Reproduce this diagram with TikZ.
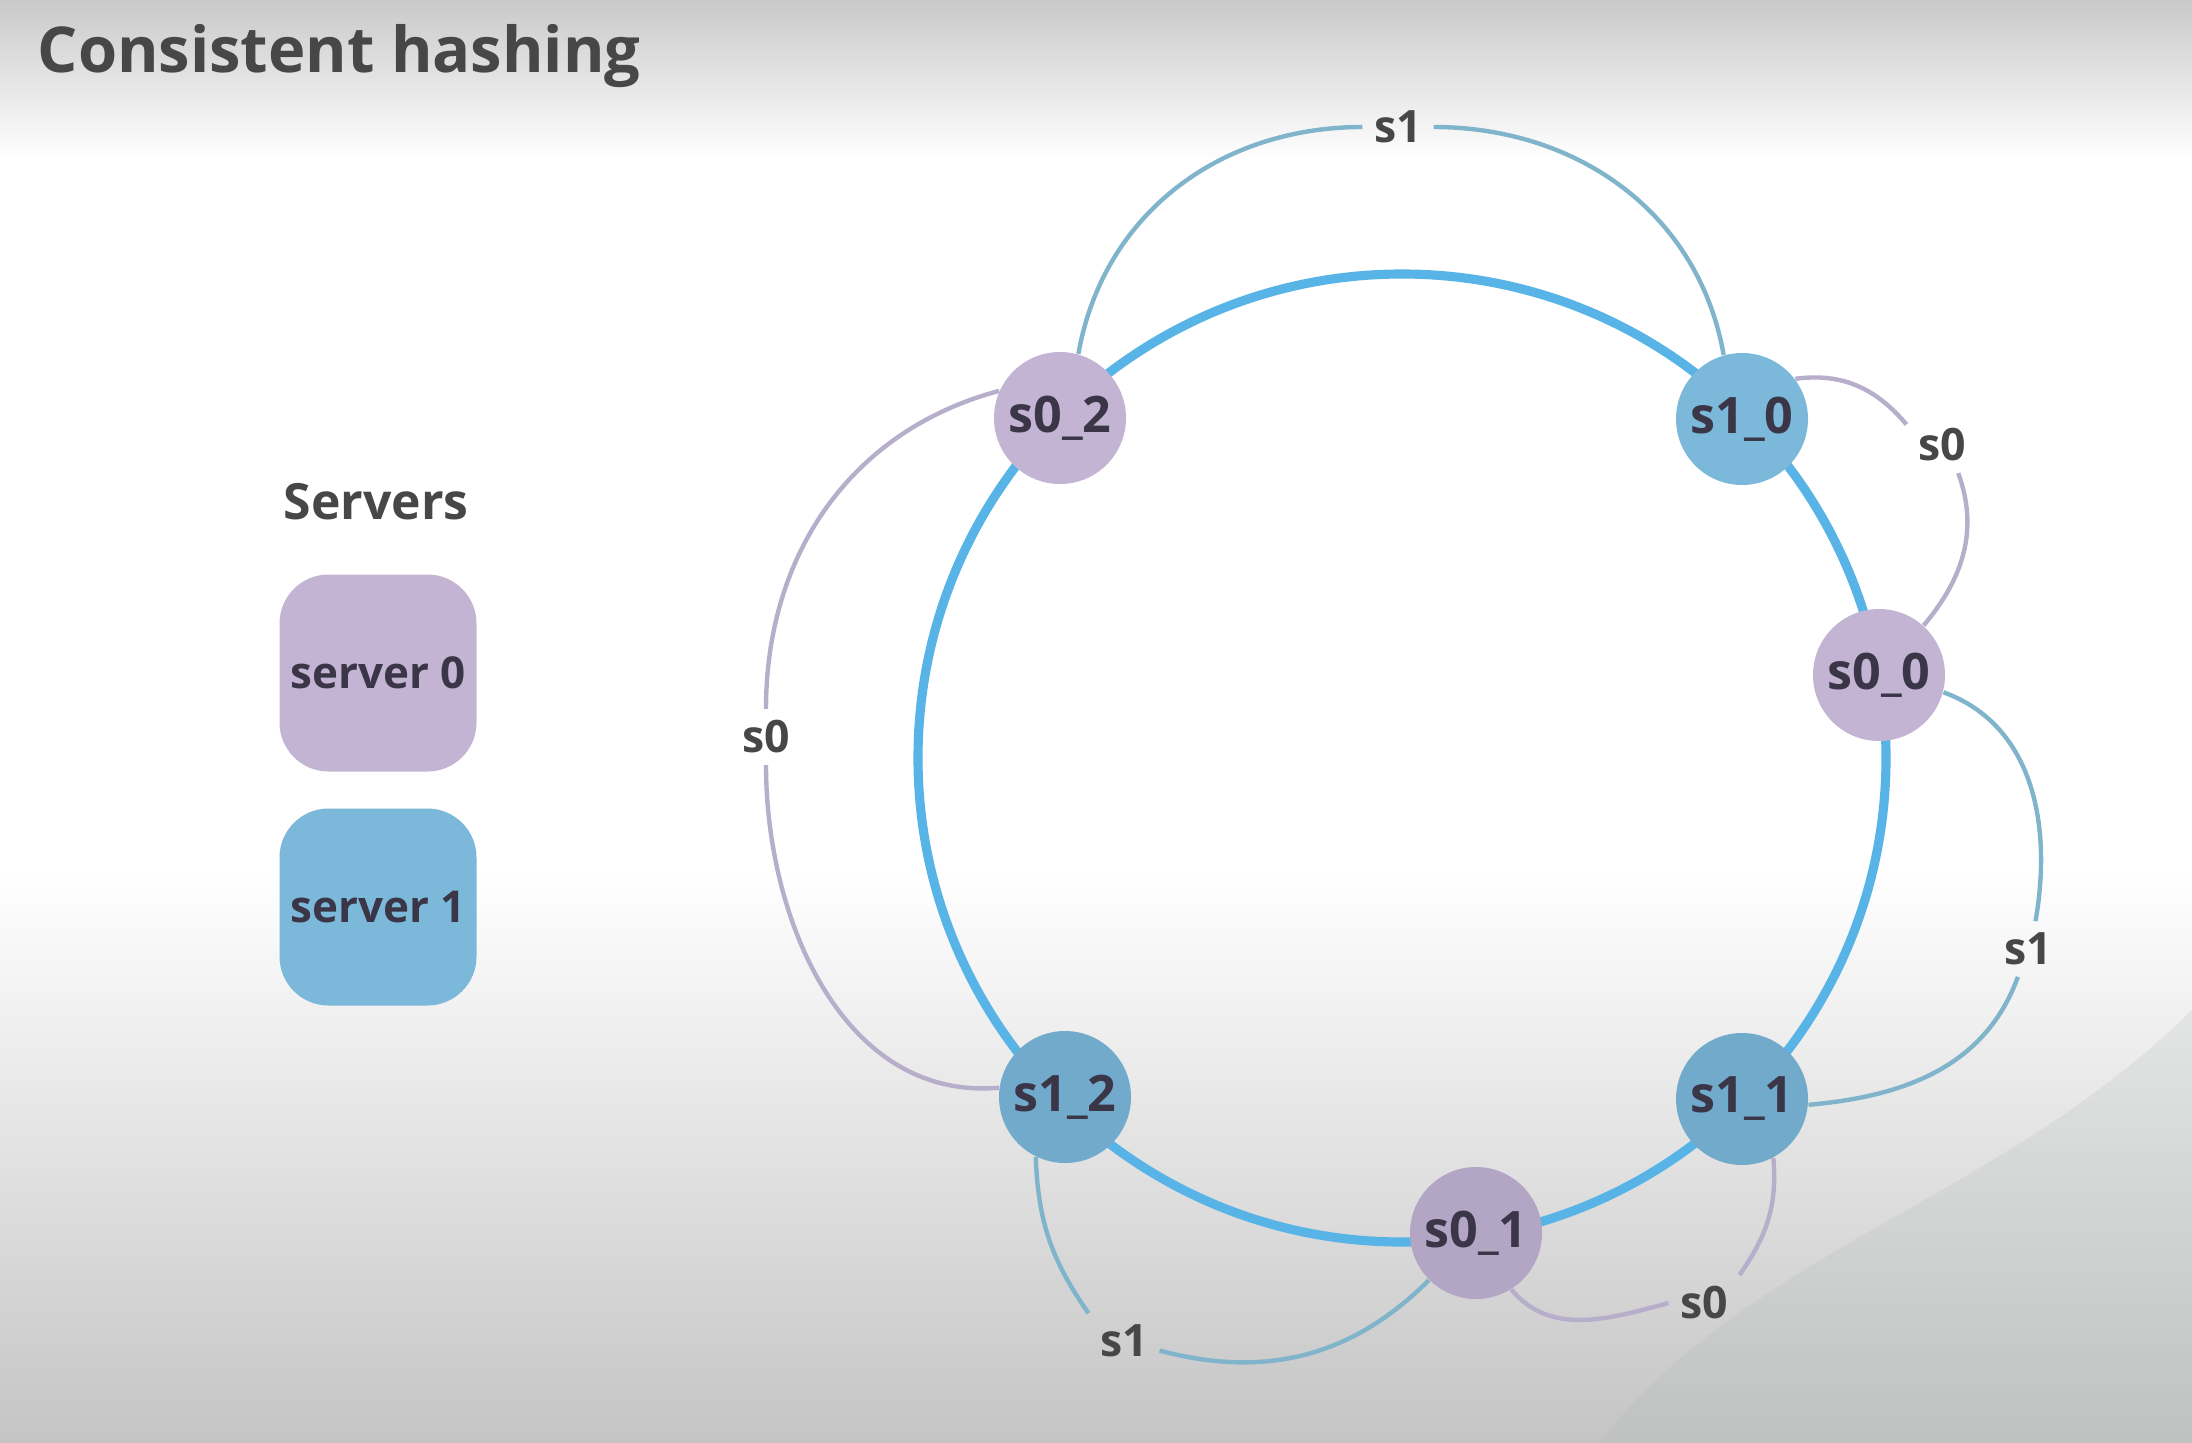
\documentclass[tikz,border=0pt]{standalone}
\usepackage{fontspec}
\setmainfont{Open Sans}
\definecolor{ringc}{HTML}{58B4E6}
\definecolor{purp}{HTML}{C3B4D3}
\definecolor{purpd}{HTML}{B3A6C5}
\definecolor{blue}{HTML}{7CB8D9}
\definecolor{blued}{HTML}{72AACB}
\definecolor{linkb}{HTML}{80B4CA}
\definecolor{linkp}{HTML}{B6AECA}
\definecolor{ink}{HTML}{3A3547}
\definecolor{txt}{HTML}{474747}
\definecolor{blob}{HTML}{A9B8B1}
\begin{document}
\begin{tikzpicture}[x=.1mm,y=-.1mm,
vnode/.style={circle,minimum size=13.2mm,inner sep=0pt,text=ink,font=\fontsize{14.3}{17}\selectfont\bfseries},
srv/.style={rounded corners=4.9mm,minimum size=19.7mm,inner sep=0pt,text=ink,font=\fontsize{12.5}{15}\selectfont\bfseries},
lbl/.style={inner sep=1.1mm,text=txt,font=\fontsize{12.7}{15}\selectfont\bfseries},
lk/.style={line width=1.25pt}]
\useasboundingbox (0,0) rectangle (2192,1442);
\fill[white] (0,0) rectangle (2192,1442);
\shade[top color=black!21,bottom color=white] (0,0) rectangle (2192,160);
\shade[top color=white,bottom color=black!23] (0,870) rectangle (2192,1442);
\fill[blob,opacity=.2] (2192,1010) .. controls (2000,1200) and (1750,1250) .. (1600,1442) -- (2192,1442) -- cycle;
\node[anchor=base west,inner sep=0pt,text=txt,font=\fontsize{18}{22}\selectfont\bfseries] (title) at (37,73) {Consistent hashing};
\node[anchor=base,inner sep=0pt,text=txt,font=\fontsize{14.2}{17}\selectfont\bfseries] (servers) at (376,519) {Servers};
\node[srv,fill=purp] (srv0) at (378,673) {server 0};
\node[srv,fill=blue] (srv1) at (378,907) {server 1};
\draw[ringc,line width=2.6pt] (1402,758) circle (484);
\node[vnode,fill=purp] (s02) at (1060,418) {s0\_2};
\node[vnode,fill=blue] (s10) at (1742,419) {s1\_0};
\node[vnode,fill=purp] (s00) at (1879,675) {s0\_0};
\node[vnode,fill=blued] (s11) at (1742,1099) {s1\_1};
\node[vnode,fill=purpd] (s01) at (1476,1233) {s0\_1};
\node[vnode,fill=blued] (s12) at (1065,1097) {s1\_2};
\node[lbl] (a1) at (1398,127) {s1};
\node[lbl] (a2) at (1942,445) {s0};
\node[lbl] (a3) at (2028,949) {s1};
\node[lbl] (a4) at (1704,1303) {s0};
\node[lbl] (a5) at (1124,1341) {s1};
\node[lbl] (a6) at (766,737) {s0};
\draw[lk,linkb] (s02.74) to[out=80,in=180] (a1);
\draw[lk,linkb] (a1) to[out=0,in=100] (s10.106);
\draw[lk,linkp] (s10.37) to[out=8,in=130] (a2.150);
\draw[lk,linkp] (a2.-60) to[out=-70,in=50] (s00.48);
\draw[lk,linkb] (s00.-15) to[out=-20,in=80] (a3.75);
\draw[lk,linkb] (a3) to[out=-110,in=5] (s11.-5);
\draw[lk,linkp] (s11.-62) to[out=-85,in=55] (a4.north east);
\draw[lk,linkp] (a4.west) to[out=195,in=-50] (s01.-58);
\draw[lk,linkb] (s12.-116) to[out=-88,in=125] (a5.north west);
\draw[lk,linkb] (a5.-15) to[out=-15,in=-135] (s01.-135);
\draw[lk,linkp] (s02.156) to[out=195,in=90] (a6);
\draw[lk,linkp] (a6) to[out=-90,in=185] (s12.172);
\end{tikzpicture}
\end{document}
